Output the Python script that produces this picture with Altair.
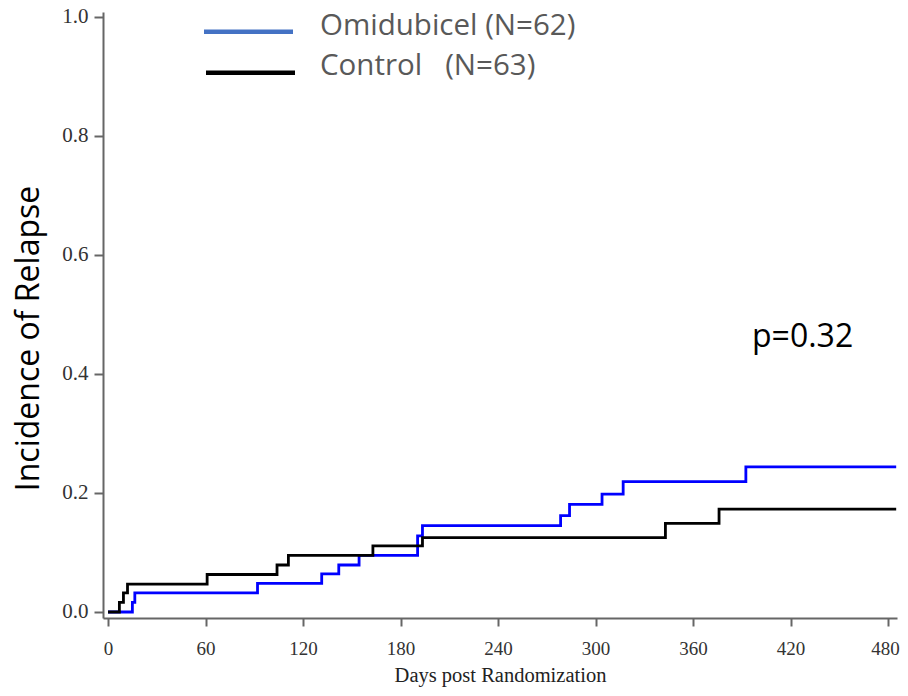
import altair as alt
import pandas as pd

# ---- data ----
omi_days = [0, 15, 16.5, 92, 131.5, 142, 154.5, 190.5, 193.5, 278.5, 284, 304, 317, 392.5, 485]
omi_inc = [0, 0.016, 0.032, 0.048, 0.064, 0.079, 0.095, 0.128, 0.145, 0.162, 0.181, 0.198, 0.219, 0.244, 0.244]
ctl_days = [0, 7, 9.5, 12, 61, 104, 111, 163, 193.5, 343, 376, 485]
ctl_inc = [0, 0.016, 0.032, 0.047, 0.063, 0.079, 0.095, 0.111, 0.125, 0.149, 0.173, 0.173]

groups = ["Omidubicel", "Control"]
line_colors = ["#0000FF", "#000000"]
legend_labels = ["Omidubicel (N=62)", "Control\u00a0\u00a0\u00a0(N=63)"]
legend_colors = ["#4472C4", "#000000"]
x_ticks = [0, 60, 120, 180, 240, 300, 360, 420, 480]
y_ticks = [0.0, 0.2, 0.4, 0.6, 0.8, 1.0]
p_label = "p=0.32"

df = pd.concat([
    pd.DataFrame({"day": omi_days, "inc": omi_inc, "group": groups[0]}),
    pd.DataFrame({"day": ctl_days, "inc": ctl_inc, "group": groups[1]}),
])

serif = "Liberation Serif"
sans = "Open Sans"

x_axis = alt.Axis(
    values=x_ticks, title="Days post Randomization", grid=False,
    titleFont=serif, titleFontSize=20.5, titleFontWeight="normal", titleColor="#222222",
    titleBaseline="alphabetic", titleY=63,
    labelFont=serif, labelFontSize=19, labelColor="#333333", labelBaseline="alphabetic",
    labelPadding=28, labelFlush=False, labelOverlap=False,
    labelOffset={"condition": {"test": "datum.value === 480", "value": -3}, "value": 0},
    tickSize=8, tickWidth=2, tickColor="#666666", domainColor="#666666", domainWidth=2,
)
y_axis = alt.Axis(
    values=y_ticks, format=".1f", title="Incidence of Relapse", grid=False,
    titleFont=sans, titleFontSize=32, titleFontWeight="normal", titleColor="#000000",
    titleAngle=270, titleBaseline="alphabetic", titleAlign="center", titleX=-65, titleY=326,
    labelFont=serif, labelFontSize=21, labelColor="#333333", labelPadding=6,
    labelFlush=False, labelOverlap=False,
    tickSize=9, tickWidth=2, tickColor="#666666", domainColor="#666666", domainWidth=2,
)

lines = alt.Chart(df).mark_line(interpolate="step-after", strokeWidth=2.8).encode(
    x=alt.X("day:Q", axis=x_axis, scale=alt.Scale(domain=[-3.08, 485.5], nice=False, zero=False)),
    y=alt.Y("inc:Q", axis=y_axis, scale=alt.Scale(domain=[-0.0101, 1.0084], nice=False, zero=False)),
    color=alt.Color("group:N", scale=alt.Scale(domain=groups, range=line_colors), legend=None),
    detail="group:N",
)

one = pd.DataFrame({"k": [0]})
layers = [lines]
legend_y_line = [19.7, 60.7]
legend_y_text = [23, 63]
for i, (lab, col) in enumerate(zip(legend_labels, legend_colors)):
    layers.append(
        alt.Chart(one).mark_rule(strokeWidth=4.5, color=col).encode(
            x=alt.value(101 + 2 * i), x2=alt.value(190 + 2 * i), y=alt.value(legend_y_line[i])
        )
    )
    layers.append(
        alt.Chart(one).mark_text(
            text=lab, font=sans, fontSize=29.5, color="#595959", align="left", baseline="alphabetic"
        ).encode(x=alt.value(217), y=alt.value(legend_y_text[i]))
    )

layers.append(
    alt.Chart(one).mark_text(
        text=p_label, font=sans, fontSize=32, color="#000000", align="left", baseline="alphabetic"
    ).encode(x=alt.value(649), y=alt.value(335))
)

chart = alt.layer(*layers).properties(
    width=794, height=606,
    autosize=alt.AutoSizeParams(type="none"),
    padding={"left": 95, "top": 4, "right": 3, "bottom": 70},
    background="white",
).configure_view(stroke=None)

chart.save("out.html", embed_options={"renderer": "svg", "actions": False})
